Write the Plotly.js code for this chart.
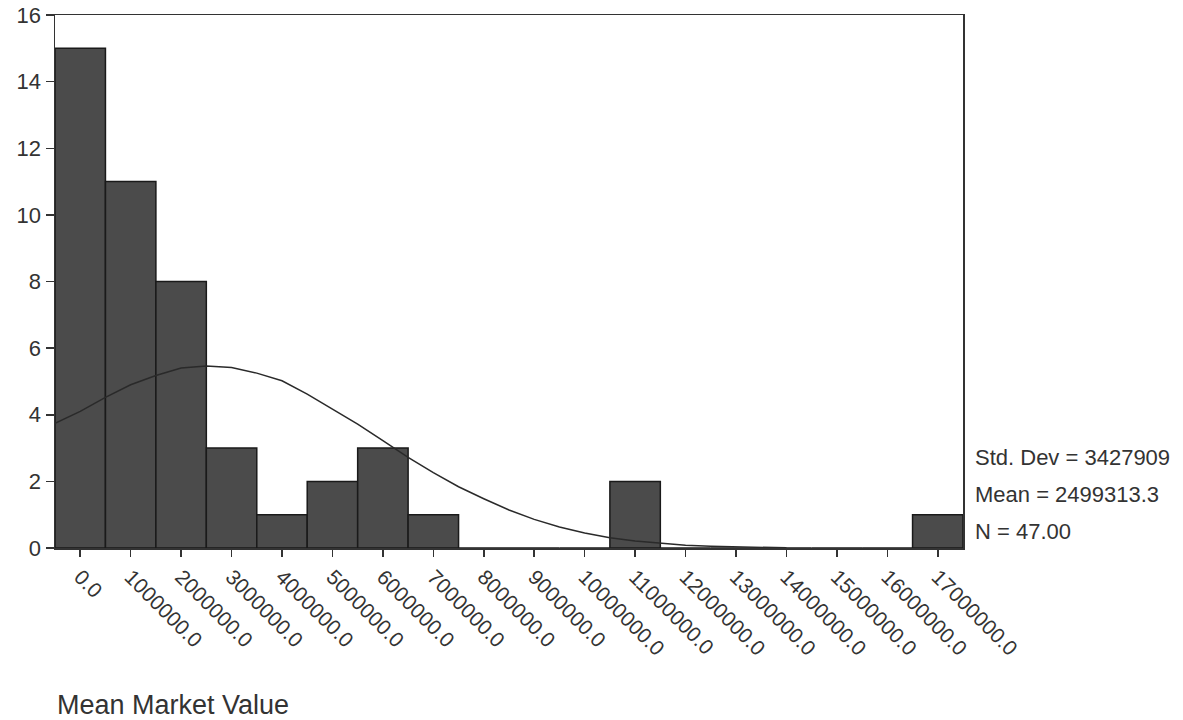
<!DOCTYPE html>
<html>
<head>
<meta charset="utf-8">
<script src="https://cdn.plot.ly/plotly-3.0.1.min.js"></script>
<style>
  html, body { margin: 0; padding: 0; background: #ffffff; }
  #chart { width: 1183px; height: 720px; }
</style>
</head>
<body>
<div id="chart"></div>
<script>
// Histogram bins (bin centres, width 1,000,000)
const binCenters = [0, 1000000, 2000000, 3000000, 4000000, 5000000, 6000000, 7000000, 8000000,
  9000000, 10000000, 11000000, 12000000, 13000000, 14000000, 15000000, 16000000, 17000000];
const counts = [15, 11, 8, 3, 1, 2, 3, 1, 0, 0, 0, 2, 0, 0, 0, 0, 0, 1];
const tickLabels = ["0.0", "1000000.0", "2000000.0", "3000000.0", "4000000.0", "5000000.0",
  "6000000.0", "7000000.0", "8000000.0", "9000000.0", "10000000.0", "11000000.0", "12000000.0",
  "13000000.0", "14000000.0", "15000000.0", "16000000.0", "17000000.0"];

// Fitted normal curve
const curveX = [-500000, 0, 500000, 1000000, 1500000, 2000000, 2500000, 3000000, 3500000, 4000000,
  4500000, 5000000, 5500000, 6000000, 6500000, 7000000, 7500000, 8000000, 8500000, 9000000,
  9500000, 10000000, 10500000, 11000000, 11500000, 12000000, 12500000, 13000000, 13500000, 14000000];
const curveY = [3.74, 4.10, 4.52, 4.90, 5.18, 5.40, 5.46, 5.42, 5.25, 5.02,
  4.62, 4.18, 3.72, 3.22, 2.72, 2.26, 1.84, 1.48, 1.14, 0.86,
  0.63, 0.45, 0.31, 0.21, 0.14, 0.08, 0.05, 0.03, 0.015, 0.005];

const statLines = ["Std. Dev = 3427909", "Mean = 2499313.3", "N = 47.00"];
const xTitle = "Mean Market Value";

const FONT = "Liberation Sans, Arial, sans-serif";

const traces = [
  {
    type: "bar",
    x: binCenters,
    y: counts,
    width: 1000000,
    marker: { color: "#4b4b4b", line: { color: "#1a1a1a", width: 1.5 } },
    hoverinfo: "x+y"
  },
  {
    type: "scatter",
    mode: "lines",
    x: curveX,
    y: curveY,
    line: { color: "#2a2a2a", width: 1.5 },
    hoverinfo: "skip"
  }
];

const annotations = statLines.map((t, i) => ({
  text: t,
  xref: "paper", yref: "paper",
  x: 1.011, y: 0.169 - i * 0.0694,
  xanchor: "left", yanchor: "middle",
  showarrow: false,
  font: { family: FONT, size: 22, color: "#333333" }
}));
annotations.push({
  text: xTitle,
  xref: "paper", yref: "paper",
  x: 0.0, y: -0.295,
  xanchor: "left", yanchor: "middle",
  showarrow: false,
  font: { family: FONT, size: 27, color: "#333333" }
});

const layout = {
  width: 1183,
  height: 720,
  margin: { l: 55, r: 220, t: 15, b: 172 },
  paper_bgcolor: "#ffffff",
  plot_bgcolor: "#ffffff",
  showlegend: false,
  bargap: 0,
  xaxis: {
    range: [-500000, 17500000],
    tickmode: "array",
    tickvals: binCenters,
    ticktext: tickLabels,
    tickangle: 45,
    ticks: "outside",
    ticklen: 7,
    tickwidth: 1.5,
    tickcolor: "#333333",
    showline: true,
    linecolor: "#333333",
    linewidth: 1.5,
    mirror: true,
    showgrid: false,
    zeroline: false,
    tickfont: { family: FONT, size: 21, color: "#333333" }
  },
  yaxis: {
    range: [0, 16],
    tickvals: [0, 2, 4, 6, 8, 10, 12, 14, 16],
    ticks: "outside",
    ticklen: 8,
    tickwidth: 1.5,
    tickcolor: "#333333",
    showline: true,
    linecolor: "#333333",
    linewidth: 1.5,
    mirror: true,
    showgrid: false,
    zeroline: false,
    tickfont: { family: FONT, size: 22, color: "#333333" }
  },
  annotations: annotations
};

Plotly.newPlot("chart", traces, layout, { displayModeBar: false, staticPlot: true });
</script>
</body>
</html>
